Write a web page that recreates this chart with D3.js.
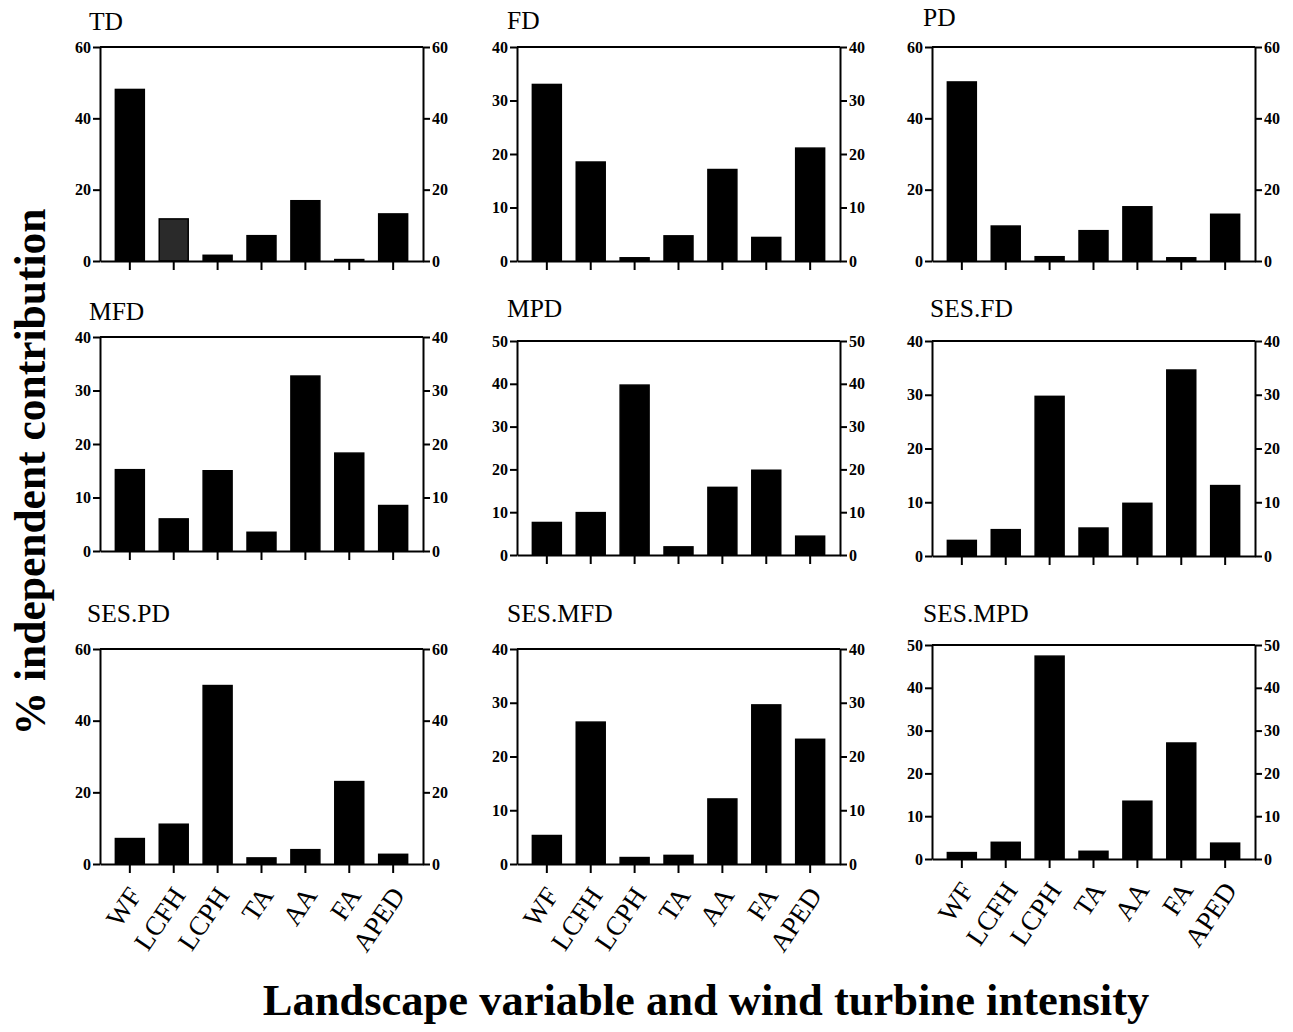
<!DOCTYPE html>
<html>
<head>
<meta charset="utf-8">
<script src="https://cdn.jsdelivr.net/npm/d3@7"></script>
<style>
  body { margin: 0; background: #fff; }
  svg text { font-family: "Liberation Serif", "Times New Roman", serif; }
</style>
</head>
<body>
<div id="chart"></div>
<script>
const categories = ["WF", "LCFH", "LCPH", "TA", "AA", "FA", "APED"]
const panelNames = ["TD", "FD", "PD", "MFD", "MPD", "SES.FD", "SES.PD", "SES.MFD", "SES.MPD"]
const yMax = [60, 40, 60, 40, 50, 40, 60, 40, 50]
const yStep = [20, 10, 20, 10, 10, 10, 20, 10, 10]

const TD = [48.1, 11.8, 1.6, 7.1, 16.9, 0.4, 13.2]
const FD = [33.0, 18.5, 0.6, 4.7, 17.1, 4.4, 21.1]
const PD = [50.2, 9.8, 1.2, 8.5, 15.2, 0.9, 13.1]
const MFD = [15.2, 6.0, 15.0, 3.5, 32.7, 18.3, 8.5]
const MPD = [7.6, 9.9, 39.7, 1.9, 15.8, 19.8, 4.4]
const SES_FD = [2.9, 4.9, 29.7, 5.2, 9.8, 34.6, 13.1]
const SES_PD = [7.1, 11.1, 49.8, 1.7, 4.0, 23.0, 2.7]
const SES_MFD = [5.3, 26.4, 1.2, 1.6, 12.1, 29.6, 23.2]
const SES_MPD = [1.5, 3.9, 47.4, 1.8, 13.5, 27.1, 3.7]
const panelValues = [TD, FD, PD, MFD, MPD, SES_FD, SES_PD, SES_MFD, SES_MPD]

// frame of each panel (left, top, bottom of plot area) and where its title sits
const frames = [
  { x: 100, top: 47, bottom: 261, tx: 89, ty: 30 },
  { x: 517, top: 47, bottom: 261, tx: 507, ty: 29 },
  { x: 932, top: 47, bottom: 261, tx: 923, ty: 26 },
  { x: 100, top: 337, bottom: 551, tx: 89, ty: 320 },
  { x: 517, top: 341, bottom: 555, tx: 507, ty: 317 },
  { x: 932, top: 341, bottom: 556, tx: 930, ty: 317 },
  { x: 100, top: 649, bottom: 864, tx: 87, ty: 622 },
  { x: 517, top: 649, bottom: 864, tx: 507, ty: 622 },
  { x: 932, top: 645, bottom: 859, tx: 923, ty: 622 }
]
const plotWidth = 323
const width = 1293
const height = 1032

const svg = d3.select("#chart")
  .append("svg")
  .attr("width", width)
  .attr("height", height)

panelNames.forEach((name, i) => {
  const f = frames[i]
  const h = f.bottom - f.top
  const g = svg.append("g").attr("transform", `translate(${f.x},${f.top})`)

  const x = d3.scaleBand()
    .domain(categories)
    .range([0, plotWidth])
    .paddingInner(0.34)
    .paddingOuter(0.35)
  const y = d3.scaleLinear().domain([0, yMax[i]]).range([h, 0])
  const ticks = d3.range(0, yMax[i] + 1, yStep[i])

  g.append("g")
    .selectAll("rect")
    .data(panelValues[i])
    .join("rect")
    .attr("x", (d, j) => x(categories[j]))
    .attr("y", d => y(d))
    .attr("width", x.bandwidth())
    .attr("height", d => h - y(d))
    .attr("fill", (d, j) => (i === 0 && j === 1) ? "#2a2a2a" : "#000")
    .attr("stroke", "#000")
    .attr("stroke-width", 1.5)

  // top border
  g.append("line")
    .attr("x1", 0).attr("x2", plotWidth)
    .attr("y1", 0).attr("y2", 0)
    .attr("stroke", "#000").attr("stroke-width", 2)

  const left = g.append("g")
    .call(d3.axisLeft(y).tickValues(ticks).tickSize(7).tickSizeOuter(0).tickPadding(2))
  const right = g.append("g")
    .attr("transform", `translate(${plotWidth},0)`)
    .call(d3.axisRight(y).tickValues(ticks).tickSize(7).tickSizeOuter(0).tickPadding(2))
  const bottom = g.append("g")
    .attr("transform", `translate(0,${h})`)
    .call(d3.axisBottom(x).tickSize(9).tickSizeOuter(0).tickFormat(""))

  ;[left, right, bottom].forEach(ax => {
    ax.attr("font-size", null).attr("font-family", null)
    ax.selectAll("path, line").attr("stroke", "#000").attr("stroke-width", 2)
    ax.selectAll("text")
      .style("font-family", "'Liberation Serif', serif")
      .style("font-weight", "bold")
      .style("font-size", "16px")
      .attr("fill", "#000")
  })

  // rotated category labels only on the bottom row
  if (i >= 6) {
    g.append("g")
      .selectAll("text")
      .data(categories)
      .join("text")
      .attr("transform", d => `translate(${x(d) + x.bandwidth() / 2 + 5},${h + 26}) rotate(-56)`)
      .attr("text-anchor", "end")
      .attr("dy", "0.35em")
      .style("font-size", "27px")
      .attr("fill", "#000")
      .text(d => d)
  }

  svg.append("text")
    .attr("x", f.tx)
    .attr("y", f.ty)
    .style("font-size", "25.5px")
    .attr("fill", "#000")
    .text(name)
})

svg.append("text")
  .attr("transform", "translate(45,472) rotate(-90)")
  .attr("text-anchor", "middle")
  .style("font-size", "43.5px")
  .style("font-weight", "bold")
  .attr("fill", "#000")
  .text("% independent contribution")

svg.append("text")
  .attr("x", 706)
  .attr("y", 1015)
  .attr("text-anchor", "middle")
  .style("font-size", "44.5px")
  .style("font-weight", "bold")
  .attr("fill", "#000")
  .text("Landscape variable and wind turbine intensity")
</script>
</body>
</html>
